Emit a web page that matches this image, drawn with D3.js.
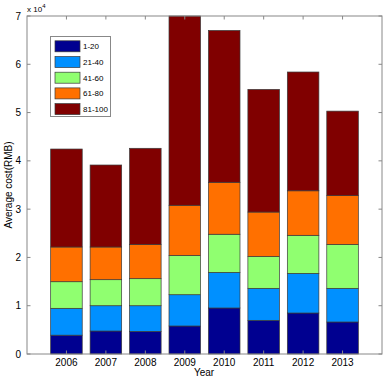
<!DOCTYPE html>
<html><head><meta charset="utf-8">
<script src="https://cdn.jsdelivr.net/npm/d3@7"></script>
<style>body{margin:0;background:#fff}svg{display:block}text{font-family:"Liberation Sans",Arial,sans-serif}</style>
</head><body>
<svg id="c" width="392" height="378"></svg>
<script>
const years = ["2006","2007","2008","2009","2010","2011","2012","2013"];
const groups = ["1-20","21-40","41-60","61-80","81-100"];
const colors = ["#000090","#0090ff","#90ff70","#ff7000","#800000"];
const s1 = [0.39,0.476,0.469,0.58,0.953,0.697,0.849,0.663];
const s2 = [0.556,0.524,0.531,0.648,0.737,0.663,0.821,0.697];
const s3 = [0.551,0.539,0.56,0.812,0.79,0.66,0.788,0.91];
const s4 = [0.719,0.677,0.71,1.04,1.076,0.92,0.922,1.01];
const s5 = [2.029,1.698,1.99,3.92,3.144,2.54,2.46,1.75];
const yTicks = [0,1,2,3,4,5,6,7];

const series = [s1,s2,s3,s4,s5];
const svg = d3.select("#c");
const L=27,T=16,R=382,B=354;
const x = d3.scaleLinear().domain([0,9]).range([L,R]);
const y = d3.scaleLinear().domain([0,7]).range([B,T]);
const bw = (x(1)-x(0))*0.8;

const g = svg.append("g");
years.forEach((yr,i)=>{
  let base=0;
  series.forEach((s,k)=>{
    const top=Math.min(base+s[i],7);
    g.append("rect").attr("x",x(i+1)-bw/2).attr("width",bw)
      .attr("y",y(top)).attr("height",y(base)-y(top))
      .attr("fill",colors[k]).attr("stroke","#3a3a3a").attr("stroke-width",0.7);
    base+=s[i];
  });
});

const ac="#888";
// box
svg.append("rect").attr("x",L).attr("y",T).attr("width",R-L).attr("height",B-T)
  .attr("fill","none").attr("stroke",ac).attr("stroke-width",1);
// x ticks
years.forEach((yr,i)=>{
  const xx=x(i+1);
  svg.append("line").attr("x1",xx).attr("x2",xx).attr("y1",B).attr("y2",B-3.5).attr("stroke",ac);
  svg.append("line").attr("x1",xx).attr("x2",xx).attr("y1",T).attr("y2",T+3.5).attr("stroke",ac);
  svg.append("text").attr("x",xx).attr("y",B+12).attr("text-anchor","middle").attr("font-size",10).text(yr);
});
yTicks.forEach(v=>{
  const yy=y(v);
  svg.append("line").attr("x1",L).attr("x2",L+3.5).attr("y1",yy).attr("y2",yy).attr("stroke",ac);
  svg.append("line").attr("x1",R).attr("x2",R-3.5).attr("y1",yy).attr("y2",yy).attr("stroke",ac);
  svg.append("text").attr("x",L-6).attr("y",yy+3.5).attr("text-anchor","end").attr("font-size",10).text(v);
});
// exponent
const ex=svg.append("text").attr("x",27).attr("y",12).attr("font-size",8);
ex.append("tspan").text("x 10");
ex.append("tspan").attr("font-size",6).attr("dy",-4).text("4");
// labels
svg.append("text").attr("x",204).attr("y",376).attr("text-anchor","middle").attr("font-size",10).text("Year");
svg.append("text").attr("transform","translate(12,185) rotate(-90)").attr("text-anchor","middle").attr("font-size",10).text("Average cost(RMB)");

// legend
const lg=svg.append("g");
lg.append("rect").attr("x",50.5).attr("y",36.5).attr("width",60).attr("height",80).attr("fill","#fff").attr("stroke",ac);
groups.forEach((n,k)=>{
  const cy=46.3+k*15.7;
  lg.append("rect").attr("x",55).attr("y",cy-5.5).attr("width",25).attr("height",11).attr("fill",colors[k]).attr("stroke","#3a3a3a").attr("stroke-width",0.7);
  lg.append("text").attr("x",83).attr("y",cy+3).attr("font-size",8).text(n);
});
</script>
</body></html>
